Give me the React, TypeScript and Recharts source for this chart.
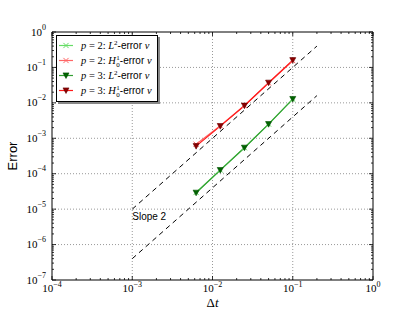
import { LineChart, Line, XAxis, YAxis, ReferenceLine, ReferenceDot, Legend } from 'recharts';

// time step sizes
const dt = [0.1, 0.05, 0.025, 0.0125, 0.00625];

// errors
const p2L2 = [0.0127, 0.00252, 0.00054, 0.000127, 0.0000295];
const p2H1 = [0.155, 0.0365, 0.0084, 0.00225, 0.00068];
const p3L2 = [0.0128, 0.0025, 0.00054, 0.000126, 0.000029];
const p3H1 = [0.16, 0.037, 0.0083, 0.0022, 0.0006];

// slope-2 guide lines
const slopeX = [1e-3, 0.2];
const slopeUpperY = [1e-5, 0.4];
const slopeLowerY = [4e-7, 0.016];

const xMajor = [1e-4, 1e-3, 1e-2, 1e-1, 1];
const yMajor = [1e-7, 1e-6, 1e-5, 1e-4, 1e-3, 1e-2, 1e-1, 1];

const withMinor = (majors: number[]) => {
  const out: number[] = [...majors];
  for (let i = 0; i < majors.length - 1; i++) {
    for (let k = 2; k < 10; k++) out.push(+(k * majors[i]).toPrecision(3));
  }
  return out.sort((a, b) => a - b);
};
const xTicks = withMinor(xMajor);
const yTicks = withMinor(yMajor);

const toPts = (ys: number[]) => dt.map((x, i) => ({ x, y: ys[i] }));
const segment = (ys: number[]) => slopeX.map((x, i) => ({ x, y: ys[i] }));

const isMajor = (v: number) => Math.abs(Math.log10(v) - Math.round(Math.log10(v))) < 1e-6;
const expText = (v: number) => {
  const e = Math.round(Math.log10(v));
  return e < 0 ? '\u2212' + -e : String(e);
};

const SERIF = '"Liberation Serif", "DejaVu Serif", serif';
const SANS = '"Liberation Sans", Arial, sans-serif';

function BottomTick({ x, y, payload }: any) {
  const major = isMajor(payload.value);
  return (
    <g>
      <line x1={x} x2={x} y1={y} y2={y - (major ? 4 : 2)} stroke="#000" strokeWidth={0.8} />
      {major && (
        <text x={x} y={y + 12} textAnchor="middle" fontFamily={SERIF} fontSize={11} fill="#000">
          <tspan>10</tspan>
          <tspan dy={-5} fontSize={8}>{expText(payload.value)}</tspan>
        </text>
      )}
    </g>
  );
}

function TopTick({ x, y, payload }: any) {
  const major = isMajor(payload.value);
  return <line x1={x} x2={x} y1={y} y2={y + (major ? 4 : 2)} stroke="#000" strokeWidth={0.8} />;
}

function LeftTick({ x, y, payload }: any) {
  const major = isMajor(payload.value);
  return (
    <g>
      <line x1={x} x2={x + (major ? 4 : 2)} y1={y} y2={y} stroke="#000" strokeWidth={0.8} />
      {major && (
        <text x={x - 6} y={y + 3.5} textAnchor="end" fontFamily={SERIF} fontSize={11} fill="#000">
          <tspan>10</tspan>
          <tspan dy={-6} fontSize={8}>{expText(payload.value)}</tspan>
        </text>
      )}
    </g>
  );
}

function RightTick({ x, y, payload }: any) {
  const major = isMajor(payload.value);
  return <line x1={x} x2={x - (major ? 4 : 2)} y1={y} y2={y} stroke="#000" strokeWidth={0.8} />;
}

const crossDot = (color: string) => (props: any) => {
  const { cx, cy, key } = props;
  const s = 2.6;
  return (
    <g key={key}>
      <line x1={cx - s} x2={cx + s} y1={cy - s} y2={cy + s} stroke={color} strokeWidth={1} />
      <line x1={cx - s} x2={cx + s} y1={cy + s} y2={cy - s} stroke={color} strokeWidth={1} />
    </g>
  );
};

const triDot = (fill: string, edge: string) => (props: any) => {
  const { cx, cy, key } = props;
  return (
    <polygon
      key={key}
      points={`${cx - 3},${cy - 2.6} ${cx + 3},${cy - 2.6} ${cx},${cy + 3}`}
      fill={fill}
      stroke={edge}
      strokeWidth={0.6}
    />
  );
};

const series = [
  { name: 'p2L2', data: p2L2, line: '#66dd66', marker: 'x', fill: '#66dd66', edge: '#66dd66' },
  { name: 'p2H1', data: p2H1, line: '#ff6666', marker: 'x', fill: '#ff6666', edge: '#ff6666' },
  { name: 'p3L2', data: p3L2, line: '#33a033', marker: 'v', fill: '#006400', edge: '#004d00' },
  { name: 'p3H1', data: p3H1, line: '#ff1a1a', marker: 'v', fill: '#8b0000', edge: '#660000' },
];

const legendRows = [
  { s: series[0], p: 2, kind: 'L2' },
  { s: series[1], p: 2, kind: 'H1' },
  { s: series[2], p: 3, kind: 'L2' },
  { s: series[3], p: 3, kind: 'H1' },
];

function LegendRow({ s, p, kind }: any) {
  return (
    <svg width={98} height={15} style={{ display: 'block' }}>
      <line x1={2} x2={16} y1={7.5} y2={7.5} stroke={s.line} strokeWidth={1.2} />
      {s.marker === 'x' ? (
        <g>
          <line x1={6.4} x2={11.6} y1={4.9} y2={10.1} stroke={s.edge} strokeWidth={1} />
          <line x1={6.4} x2={11.6} y1={10.1} y2={4.9} stroke={s.edge} strokeWidth={1} />
        </g>
      ) : (
        <polygon points="6,4.9 12,4.9 9,10.5" fill={s.fill} stroke={s.edge} strokeWidth={0.6} />
      )}
      <text x={24} y={11} fontFamily={SERIF} fontSize={10.5} fill="#000">
        <tspan fontStyle="italic">p</tspan>
        <tspan>{` = ${p}: `}</tspan>
        {kind === 'L2' ? (
          <>
            <tspan fontStyle="italic">L</tspan>
            <tspan dy={-4} fontSize={7}>2</tspan>
            <tspan dy={4} fontFamily={SANS} fontSize={10}>-error </tspan>
          </>
        ) : (
          <>
            <tspan fontStyle="italic">H</tspan>
            <tspan dx={0.5} dy={-4.5} fontSize={7}>1</tspan>
            <tspan dx={-3.5} dy={7} fontSize={7}>0</tspan>
            <tspan dy={-2.5} fontFamily={SANS} fontSize={10}>-error </tspan>
          </>
        )}
        <tspan fontStyle="italic">v</tspan>
      </text>
    </svg>
  );
}

function LegendBox() {
  return (
    <div
      style={{
        background: '#fff',
        border: '1px solid #000',
        boxShadow: '2px 2px 0 #888',
        padding: '2px 2px 3px 0',
      }}
    >
      {legendRows.map((r, i) => (
        <LegendRow key={i} {...r} />
      ))}
    </div>
  );
}

export default function App() {
  return (
    <div style={{ position: 'absolute', left: 0, top: 0 }}>
      <LineChart width={415} height={312} margin={{ top: 31, right: 41, bottom: 31, left: 51 }}>
        <XAxis
          dataKey="x"
          type="number"
          scale="log"
          domain={[1e-4, 1]}
          allowDataOverflow
          ticks={xTicks}
          interval={0}
          height={1}
          tickSize={0}
          tickMargin={0}
          tickLine={false}
          tick={<BottomTick />}
          axisLine={{ stroke: '#000', strokeWidth: 1 }}
          label={{
            content: ({ viewBox }: any) => (
              <text
                x={viewBox.x + viewBox.width / 2}
                y={viewBox.y + 27}
                textAnchor="middle"
                fontFamily={SERIF}
                fontSize={13}
              >
                Δ<tspan fontStyle="italic">t</tspan>
              </text>
            ),
          }}
        />
        <XAxis
          xAxisId="top"
          orientation="top"
          dataKey="x"
          type="number"
          scale="log"
          domain={[1e-4, 1]}
          allowDataOverflow
          ticks={xTicks}
          interval={0}
          height={1}
          tickSize={0}
          tickMargin={0}
          tickLine={false}
          tick={<TopTick />}
          axisLine={{ stroke: '#000', strokeWidth: 1 }}
        />
        <YAxis
          type="number"
          scale="log"
          domain={[1e-7, 1]}
          allowDataOverflow
          ticks={yTicks}
          interval={0}
          width={1}
          tickSize={0}
          tickMargin={0}
          tickLine={false}
          tick={<LeftTick />}
          axisLine={{ stroke: '#000', strokeWidth: 1 }}
          label={{
            content: ({ viewBox }: any) => {
              const cx = viewBox.x - 34;
              const cy = viewBox.y + viewBox.height / 2;
              return (
                <text
                  x={cx}
                  y={cy}
                  transform={`rotate(-90 ${cx} ${cy})`}
                  textAnchor="middle"
                  fontFamily={SANS}
                  fontSize={13}
                >
                  Error
                </text>
              );
            },
          }}
        />
        <YAxis
          yAxisId="right"
          orientation="right"
          type="number"
          scale="log"
          domain={[1e-7, 1]}
          allowDataOverflow
          ticks={yTicks}
          interval={0}
          width={1}
          tickSize={0}
          tickMargin={0}
          tickLine={false}
          tick={<RightTick />}
          axisLine={{ stroke: '#000', strokeWidth: 1 }}
        />

        {xMajor.slice(1, -1).map((v) => (
          <ReferenceLine key={'gx' + v} x={v} stroke="#999" strokeDasharray="1 2" strokeWidth={1} />
        ))}
        {yMajor.slice(1, -1).map((v) => (
          <ReferenceLine key={'gy' + v} y={v} stroke="#999" strokeDasharray="1 2" strokeWidth={1} />
        ))}

        <ReferenceLine segment={segment(slopeUpperY)} stroke="#000" strokeDasharray="5 4" strokeWidth={1} />
        <ReferenceLine segment={segment(slopeLowerY)} stroke="#000" strokeDasharray="5 4" strokeWidth={1} />
        <ReferenceDot
          x={1e-3}
          y={4.8e-6}
          r={0}
          shape={(props: any) => (
            <text x={props.cx} y={props.cy} fontFamily={SANS} fontSize={10} fill="#000">
              Slope 2
            </text>
          )}
        />

        {series.map((s) => (
          <Line
            key={s.name}
            data={toPts(s.data)}
            dataKey="y"
            name={s.name}
            stroke={s.line}
            strokeWidth={1.2}
            dot={s.marker === 'x' ? crossDot(s.edge) : triDot(s.fill, s.edge)}
            activeDot={false}
            isAnimationActive={false}
          />
        ))}

        <Legend
          layout="vertical"
          align="center"
          verticalAlign="middle"
          content={() => <LegendBox />}
          wrapperStyle={{ left: 56, top: 35, width: 'auto' }}
        />
      </LineChart>
    </div>
  );
}
